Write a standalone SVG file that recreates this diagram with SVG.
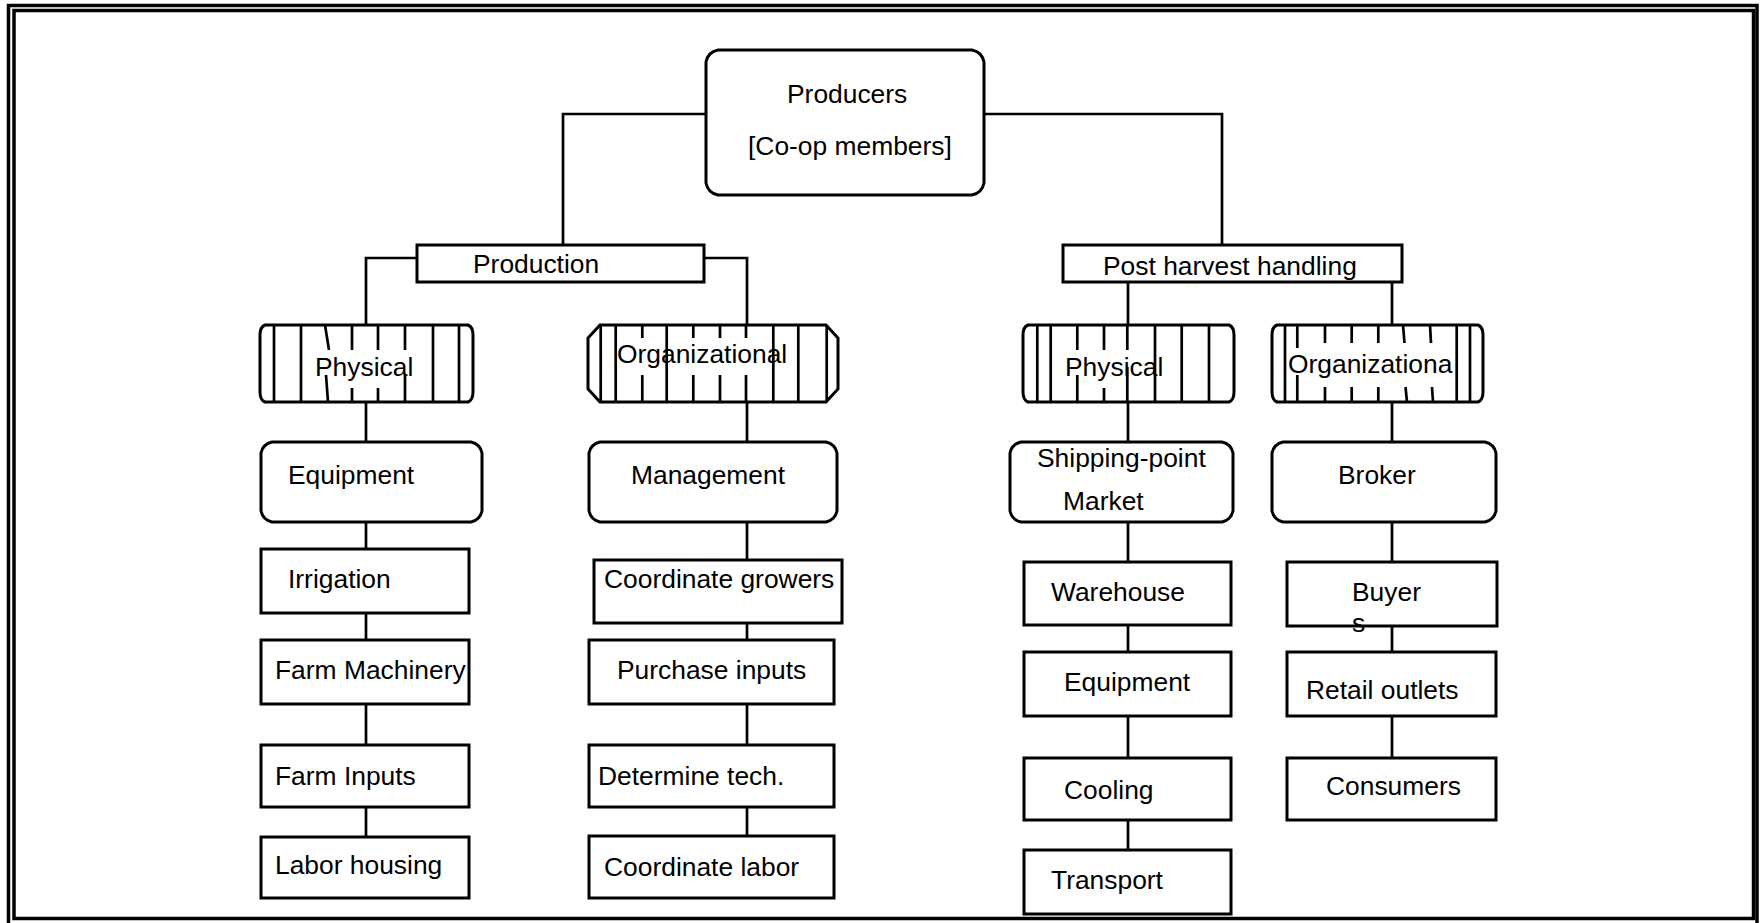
<svg xmlns="http://www.w3.org/2000/svg" width="1760" height="923" viewBox="0 0 1760 923">
<style>
.f{fill:none;stroke:#000;stroke-width:3.5}
.b{fill:#fff;stroke:#000;stroke-width:3}
.s{stroke:#000;stroke-width:2.7;fill:none}
.c{stroke:#000;stroke-width:2.7;fill:none}
text{font-family:"Liberation Sans",Arial,sans-serif;font-size:26.4px;fill:#000}
</style>
<rect width="1760" height="923" fill="#fff"/>
<rect class="f" x="8.5" y="5.5" width="1748.5" height="940"/>
<rect class="f" x="14" y="10.5" width="1739.5" height="908"/>
<g id="connectors">
<path class="c" d="M706,114 H563 V245"/>
<path class="c" d="M984,114 H1222 V245"/>
<path class="c" d="M417,258 H366 V325"/>
<path class="c" d="M704,258 H747 V325"/>
<path class="c" d="M1128,282 V325"/>
<path class="c" d="M1392,282 V325"/>
<path class="c" d="M366,402 V442 M366,522 V549 M366,613 V640 M366,704 V745 M366,807 V837"/>
<path class="c" d="M747,402 V442 M747,522 V560 M747,623 V640 M747,704 V745 M747,807 V836"/>
<path class="c" d="M1128,402 V442 M1128,522 V562 M1128,625 V652 M1128,716 V758 M1128,820 V850"/>
<path class="c" d="M1392,402 V442 M1392,522 V562 M1392,626 V652 M1392,716 V758"/>
</g>
<g id="producers">
<path class="b" d="M718,50 H972 Q982,52 984,62 V183 Q982,193 972,195 H718 Q708,193 706,183 V62 Q708,52 718,50 Z"/>
<text x="787" y="103">Producers</text>
<text x="748" y="155">[Co-op members]</text>
</g>
<g id="production">
<rect class="b" x="417" y="245" width="287" height="37"/>
<text x="473" y="273">Production</text>
</g>
<g id="postharvest">
<rect class="b" x="1063" y="245" width="339" height="37"/>
<text x="1103" y="275">Post harvest handling</text>
</g>
<g id="physical-left">
<path class="b" d="M265,325 H468 Q473,327 473,335 V392 Q473,400 468,402 H265 Q260,400 260,392 V335 Q260,327 265,325 Z"/>
<path class="s" d="M274,325 V402 M301,325 V402 M433,325 V402 M459,325 V402 M325,325 L329,350 M326,375 L328,402 M352,325 V350 M352,388 V402 M378,325 V350 M378,388 V402 M405,325 V350 M405,375 V402"/>
<text x="315" y="376">Physical</text>
</g>
<g id="organizational-left">
<path class="b" d="M600,325 H826 L838,338 V389 L826,402 H600 L588,389 V338 Z"/>
<path class="s" d="M600.7,325 V402 M615.7,325 V402 M666.7,325 V402 M773.3,325 V402 M798.3,325 V402 M826.7,325 V402 M642.3,325 V338 M642.3,375 V402 M693.3,325 V338 M693.3,375 V402 M720,325 V338 M720,375 V402 M746,325 V338 M746,375 V402"/>
<text x="617" y="363">Organizational</text>
</g>
<g id="physical-right">
<path class="b" d="M1028,325 H1229 Q1234,327 1234,335 V392 Q1234,400 1229,402 H1028 Q1023,400 1023,392 V335 Q1023,327 1028,325 Z"/>
<path class="s" d="M1037.3,325 V402 M1050.7,325 V402 M1155,325 V402 M1181.7,325 V402 M1209,325 V402 M1077.3,325 V350 M1077.3,375 V402 M1104,325 V350 M1104,388 V402 M1127.3,325 V350 M1127.3,367 V402"/>
<text x="1065" y="376">Physical</text>
</g>
<g id="organizational-right">
<path class="b" d="M1277,325 H1478 Q1483,327 1483,335 V392 Q1483,400 1478,402 H1277 Q1272,400 1272,392 V335 Q1272,327 1277,325 Z"/>
<path class="s" d="M1285,325 V402 M1456.7,325 V402 M1470,325 V402 M1297.3,325 V348 M1297.3,375 V402 M1325,325 V343 M1325,387 V402 M1351.7,325 V343 M1351.7,387 V402 M1378.3,325 V343 M1378.3,387 V402 M1403,325 L1404.5,343 M1405.5,387 L1407,402 M1430,325 L1431,343 M1432,387 L1433,402"/>
<text x="1288" y="373">Organizationa</text>
</g>
<g id="equipment-left">
<path class="b" d="M272,442 H471 Q480,444 482,453 V511 Q480,520 471,522 H272 Q263,520 261,511 V453 Q263,444 272,442 Z"/>
<text x="288" y="484">Equipment</text>
</g>
<g id="management">
<path class="b" d="M600,442 H826 Q835,444 837,453 V511 Q835,520 826,522 H600 Q591,520 589,511 V453 Q591,444 600,442 Z"/>
<text x="631" y="484">Management</text>
</g>
<g id="shipping">
<path class="b" d="M1021,442 H1222 Q1231,444 1233,453 V511 Q1231,520 1222,522 H1021 Q1012,520 1010,511 V453 Q1012,444 1021,442 Z"/>
<text x="1037" y="467">Shipping-point</text>
<text x="1063" y="510">Market</text>
</g>
<g id="broker">
<path class="b" d="M1283,442 H1485 Q1494,444 1496,453 V511 Q1494,520 1485,522 H1283 Q1274,520 1272,511 V453 Q1274,444 1283,442 Z"/>
<text x="1338" y="484">Broker</text>
</g>
<g id="irrigation"><rect class="b" x="261" y="549" width="208" height="64"/><text x="288" y="588">Irrigation</text></g>
<g id="farm-machinery"><rect class="b" x="261" y="640" width="208" height="64"/><text x="275" y="679">Farm Machinery</text></g>
<g id="farm-inputs"><rect class="b" x="261" y="745" width="208" height="62"/><text x="275" y="785">Farm Inputs</text></g>
<g id="labor-housing"><rect class="b" x="261" y="837" width="208" height="61"/><text x="275" y="874">Labor housing</text></g>
<g id="coordinate-growers"><rect class="b" x="594" y="560" width="248" height="63"/><text x="604" y="588">Coordinate growers</text></g>
<g id="purchase-inputs"><rect class="b" x="589" y="640" width="245" height="64"/><text x="617" y="679">Purchase inputs</text></g>
<g id="determine-tech"><rect class="b" x="589" y="745" width="245" height="62"/><text x="598" y="785">Determine tech.</text></g>
<g id="coordinate-labor"><rect class="b" x="589" y="836" width="245" height="62"/><text x="604" y="876">Coordinate labor</text></g>
<g id="warehouse"><rect class="b" x="1024" y="562" width="207" height="63"/><text x="1051" y="601">Warehouse</text></g>
<g id="equipment-right"><rect class="b" x="1024" y="652" width="207" height="64"/><text x="1064" y="691">Equipment</text></g>
<g id="cooling"><rect class="b" x="1024" y="758" width="207" height="62"/><text x="1064" y="799">Cooling</text></g>
<g id="transport"><rect class="b" x="1024" y="850" width="207" height="64"/><text x="1051" y="889">Transport</text></g>
<g id="buyers"><rect class="b" x="1287" y="562" width="210" height="64"/><text x="1352" y="601">Buyer</text><text x="1352" y="632">s</text></g>
<g id="retail-outlets"><rect class="b" x="1287" y="652" width="209" height="64"/><text x="1306" y="699">Retail outlets</text></g>
<g id="consumers"><rect class="b" x="1287" y="758" width="209" height="62"/><text x="1326" y="795">Consumers</text></g>
</svg>
